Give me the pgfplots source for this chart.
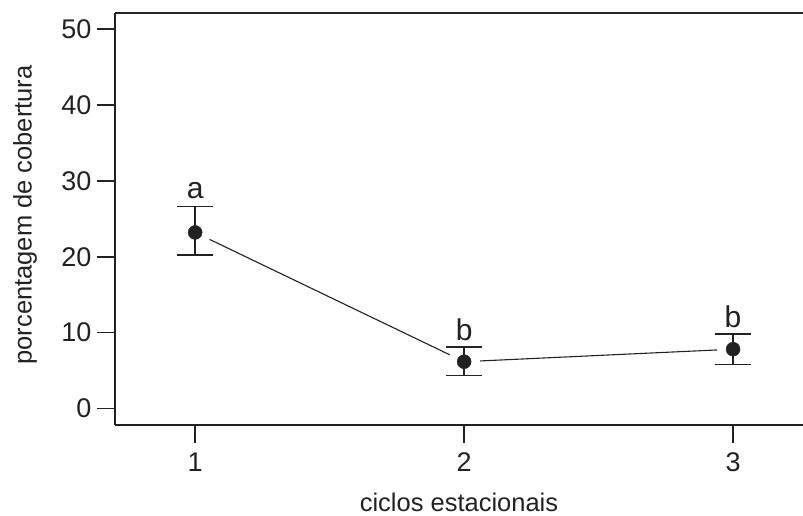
\documentclass[border=0pt]{standalone}
\usepackage{fontspec}
\setmainfont{Liberation Sans}
\usepackage{pgfplots}
\pgfplotsset{compat=1.18}
\usetikzlibrary{calc}
\definecolor{ink}{HTML}{222222}
\pgfplotstableread{
x y ep em
1 23.2 3.4 3.0
2 6.15 1.95 1.85
3 7.8 2.0 2.0
}\means
\begin{document}
\fontsize{25}{30}\selectfont
\begin{tikzpicture}
\begin{axis}[
 scale only axis, width=688pt, height=412pt,
 xmin=0.702, xmax=3.26, ymin=-2.2, ymax=52.15,
 axis x line*=box, axis y line*=left,
 xtick={1,2,3}, ytick={0,10,20,30,40,50},
 xtick pos=bottom, ytick pos=left,
 tick align=outside, major tick length=18pt,
 axis line style={ink, line width=1.6pt},
 tick style={ink, line width=1.6pt},
 /pgf/number format/assume math mode=true,
 ticklabel style={font=\fontsize{27}{30}\selectfont, text=ink},
 yticklabel style={xshift=3pt},
 xticklabel style={yshift=-1pt},
 xlabel={ciclos estacionais},
 ylabel={porcentagem de cobertura},
 every axis x label/.style={at={(axis description cs:0.5,0)}, anchor=base, yshift=-86pt, font=\fontsize{25.5}{30}\selectfont, text=ink},
 every axis y label/.style={at={(axis description cs:-0.1308,0.51)}, rotate=90, anchor=center, font=\fontsize{25.5}{30}\selectfont, text=ink},
 clip=false,
]
\addplot[ink, line width=1.1pt, shorten <=16pt, shorten >=16pt] table[x=x,y=y] {
x y
1 23.2
2 6.15
};
\addplot[ink, line width=1.1pt, shorten <=16pt, shorten >=16pt] table[x=x,y=y] {
x y
2 6.15
3 7.8
};
\addplot[ink, only marks, mark=*, mark size=7pt, mark options={fill=ink, draw=ink},
 error bars/.cd, y dir=both, y explicit,
 error bar style={line width=1.5pt, ink},
 error mark options={rotate=90, mark size=18pt, line width=1.5pt, ink}]
 table[x=x, y=y, y error plus=ep, y error minus=em] {\means};
\node[anchor=base, text=ink, font=\fontsize{30}{32}\selectfont, yshift=8pt] at (axis cs:1,26.6) {a};
\node[anchor=base, text=ink, font=\fontsize{30}{32}\selectfont, yshift=6pt] at (axis cs:2,8.1) {b};
\node[anchor=base, text=ink, font=\fontsize{30}{32}\selectfont, yshift=7pt] at (axis cs:3,9.8) {b};
\end{axis}
\pgfresetboundingbox
\useasboundingbox ($(current axis.south west)+(-115pt,-91pt)$) rectangle ($(current axis.north east)+(0pt,13pt)$);
\end{tikzpicture}
\end{document}
